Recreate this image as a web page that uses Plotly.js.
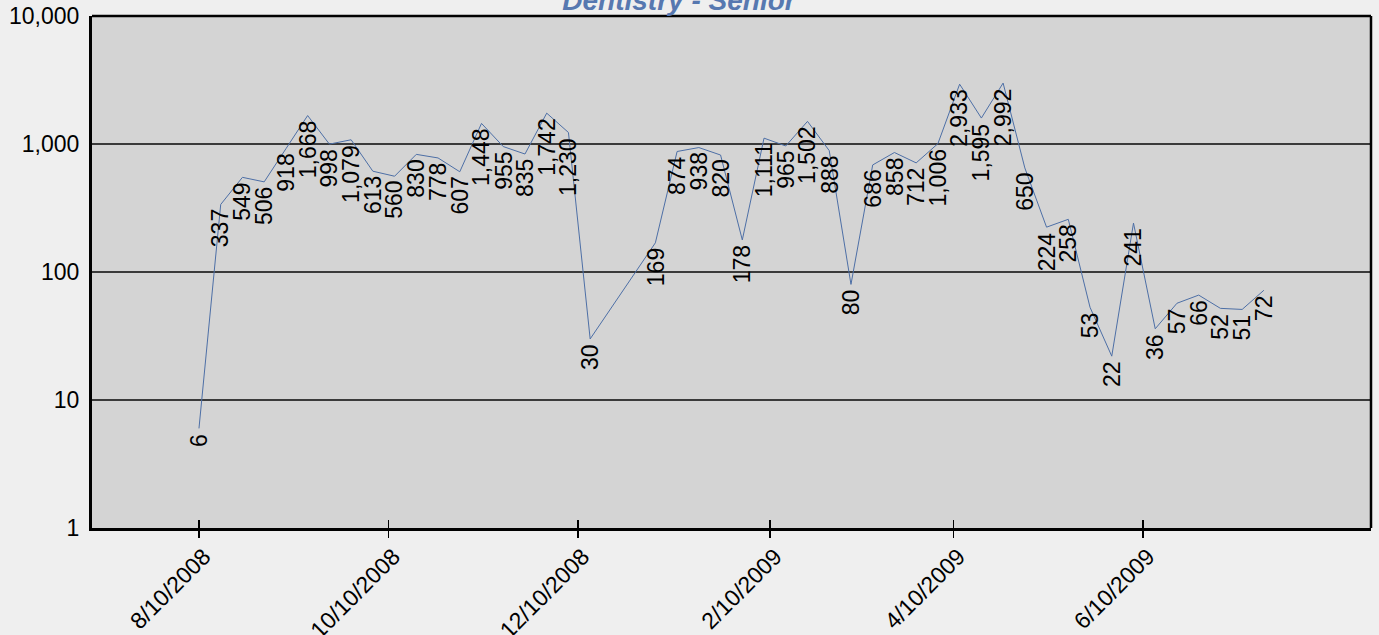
<!DOCTYPE html>
<html>
<head>
<meta charset="utf-8">
<script src="https://cdn.plot.ly/plotly-3.0.1.min.js"></script>
<style>
  html, body { margin: 0; padding: 0; background: #EFEFEF; }
  #chart { width: 1379px; height: 635px; }
</style>
</head>
<body>
<div id="chart"></div>
<script>
const chartTitle = 'Dentistry - Senior';

const dates = ['2008-08-10','2008-08-17','2008-08-24','2008-08-31','2008-09-07','2008-09-14','2008-09-21','2008-09-28',
  '2008-10-05','2008-10-12','2008-10-19','2008-10-26','2008-11-02','2008-11-09','2008-11-16','2008-11-23','2008-11-30',
  '2008-12-07','2008-12-14','2009-01-04','2009-01-11','2009-01-18','2009-01-25','2009-02-01','2009-02-08','2009-02-15',
  '2009-02-22','2009-03-01','2009-03-08','2009-03-15','2009-03-22','2009-03-29','2009-04-05','2009-04-12','2009-04-19',
  '2009-04-26','2009-05-03','2009-05-10','2009-05-17','2009-05-24','2009-05-31','2009-06-07','2009-06-14','2009-06-21',
  '2009-06-28','2009-07-05','2009-07-12','2009-07-19'];

const values = [6,337,549,506,918,1668,998,1079,613,560,830,778,607,1448,955,835,1742,1230,30,
  169,874,938,820,178,1111,965,1502,888,80,686,858,712,1006,2933,1595,2992,650,224,258,53,22,241,36,57,66,52,51,72];

const xTickVals = ['2008-08-10','2008-10-10','2008-12-10','2009-02-10','2009-04-10','2009-06-10'];
const xTickText = ['8/10/2008','10/10/2008','12/10/2008','2/10/2009','4/10/2009','6/10/2009'];

const yTickVals = [1, 10, 100, 1000, 10000];
const yTickText = ['1', '10', '100', '1,000', '10,000'];

const FONT = '"Liberation Sans", Arial, sans-serif';
const FS = 23;
const xRange = ['2008-07-06 13:00', '2009-08-22 12:00'];

const trace = {
  type: 'scatter',
  mode: 'lines',
  x: dates,
  y: values,
  line: { color: '#4D6FA6', width: 1 },
  hoverinfo: 'x+y',
  showlegend: false
};

const tickTrace = {
  type: 'scatter',
  mode: 'none',
  x: [],
  y: [],
  xaxis: 'x2',
  yaxis: 'y',
  hoverinfo: 'skip',
  showlegend: false
};

const labels = dates.map((d, i) => ({
  xref: 'x', yref: 'y',
  x: d, y: Math.log10(values[i]),
  text: values[i].toLocaleString('en-US'),
  textangle: -90,
  showarrow: false,
  xanchor: 'center',
  yanchor: 'top',
  yshift: -3,
  font: { family: FONT, size: FS, color: '#000000' }
}));

const layout = {
  width: 1379,
  height: 635,
  paper_bgcolor: '#EFEFEF',
  plot_bgcolor: '#D4D4D4',
  margin: { l: 92, r: 8, t: 16, b: 107 },
  font: { family: FONT, size: FS, color: '#000000' },
  title: {
    text: '<b><i>' + chartTitle + '</i></b>',
    font: { family: FONT, size: 28, color: '#5778B0' },
    x: 679 / 1379, xref: 'container', xanchor: 'center',
    y: 1, yref: 'container', yanchor: 'middle'
  },
  xaxis: {
    type: 'date',
    range: xRange,
    tickvals: xTickVals,
    ticktext: xTickText,
    tickangle: -45,
    ticks: 'outside',
    ticklen: 7,
    tickwidth: 1.5,
    tickcolor: '#000000',
    ticklabelstandoff: -4,
    ticklabelshift: 5,
    showgrid: false,
    zeroline: false,
    showline: true,
    linewidth: 3,
    linecolor: '#000000',
    tickfont: { family: FONT, size: FS, color: '#000000' }
  },
  xaxis2: {
    type: 'date',
    overlaying: 'x',
    matches: 'x',
    anchor: 'y',
    range: xRange,
    tickvals: xTickVals,
    ticks: 'inside',
    ticklen: 8,
    tickwidth: 1.5,
    tickcolor: '#000000',
    showticklabels: false,
    showgrid: false,
    zeroline: false,
    showline: false
  },
  yaxis: {
    type: 'log',
    range: [0, 4],
    tickvals: yTickVals,
    ticktext: yTickText,
    ticks: '',
    ticklen: 0,
    ticklabelstandoff: 5,
    showgrid: true,
    gridcolor: '#3A3A3A',
    gridwidth: 1.5,
    zeroline: false,
    showline: true,
    linewidth: 3,
    linecolor: '#000000',
    tickfont: { family: FONT, size: FS, color: '#000000' }
  },
  shapes: [
    { type: 'line', xref: 'paper', yref: 'paper', x0: 0, x1: 1, y0: 1, y1: 1,
      line: { color: '#000000', width: 2.5 } },
    { type: 'line', xref: 'paper', yref: 'paper', x0: 1, x1: 1, y0: 0, y1: 1,
      line: { color: '#000000', width: 2.5 } }
  ],
  annotations: labels,
  showlegend: false
};

Plotly.newPlot('chart', [trace, tickTrace], layout, { displayModeBar: false, staticPlot: true });
</script>
</body>
</html>
